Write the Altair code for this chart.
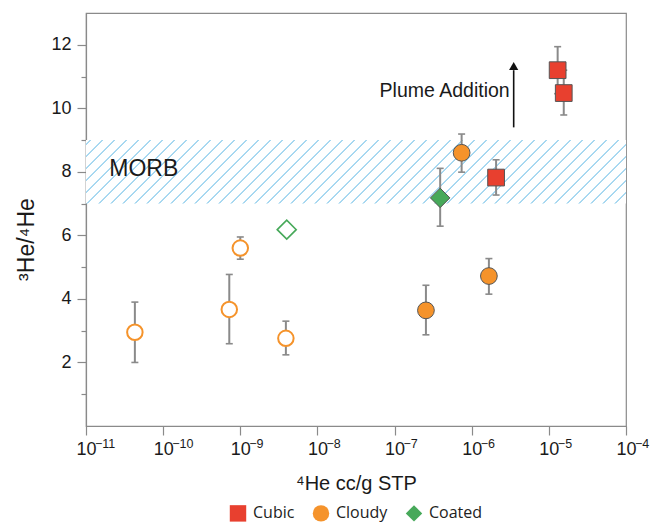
import altair as alt
import pandas as pd

# ---------------- data ----------------
types = ["Cloudy", "Cloudy", "Cloudy", "Cloudy", "Coated", "Cloudy",
         "Coated", "Cloudy", "Cloudy", "Cubic", "Cubic", "Cubic"]
he4 = [4.3e-11, 7.2e-10, 1.0e-9, 3.9e-9, 4.0e-9, 2.55e-7,
       3.9e-7, 7.4e-7, 1.67e-6, 2.07e-6, 1.3e-5, 1.56e-5]
ratio = [2.95, 3.67, 5.60, 2.76, 6.18, 3.64,
         7.18, 8.60, 4.72, 7.82, 11.20, 10.48]
err_lo = [2.00, 2.59, 5.25, 2.24, None, 2.87,
          6.29, 7.99, 4.15, 7.27, 10.46, 9.79]
err_hi = [3.90, 4.77, 5.95, 3.30, None, 4.43,
          8.11, 9.19, 5.27, 8.38, 11.94, 11.20]
filled = [False, False, False, False, False, True,
          True, True, True, True, True, True]

type_order = ["Cubic", "Cloudy", "Coated"]
type_colors = ["#e8402f", "#f5932b", "#47a95a"]
type_shapes = ["square", "circle", "diamond"]

morb_range = [7, 9]
x_domain = [1e-11, 1e-4]
x_ticks = [1e-11, 1e-10, 1e-9, 1e-8, 1e-7, 1e-6, 1e-5, 1e-4]
x_tick_exponents = ["−11", "−10", "−9", "−8", "−7", "−6", "−5", "−4"]
y_domain = [0, 13]
y_ticks = list(range(1, 13))

arrow_x = 3.5e-6
arrow_from, arrow_to, arrow_head = 9.4, 11.2, 11.33
morb_label = {"x": 2.0e-11, "y": 8.09, "text": "MORB"}
plume_label = {"x": 3.5e-6, "y": 10.55, "text": "Plume Addition"}

df = pd.DataFrame({"type": types, "he4": he4, "ratio": ratio,
                   "lo": err_lo, "hi": err_hi, "filled": filled})
err_df = df.dropna(subset=["lo", "hi"])
exp_df = pd.DataFrame({"x": x_ticks, "y": [y_domain[0]] * len(x_ticks),
                       "text": x_tick_exponents})

# ---------------- layout ----------------
W, H = 540, 413
FONT = "Liberation Sans"
AXIS_GRAY = "#8a8a8a"
HATCH = "#9fd4ef"

# diagonal hatch done with a striped linear gradient (style only)
band_h = H * (morb_range[1] - morb_range[0]) / (y_domain[1] - y_domain[0])
S = W + band_h
k = S / (W * W + band_h * band_h)
period, lw, soft = 12.0, 0.9, 0.5
stops = [alt.GradientStop(offset=0, color="#ffffff")]
pos = 4.0
while pos + lw + soft < S:
    stops += [
        alt.GradientStop(offset=(pos - soft) / S, color="#ffffff"),
        alt.GradientStop(offset=pos / S, color=HATCH),
        alt.GradientStop(offset=(pos + lw) / S, color=HATCH),
        alt.GradientStop(offset=(pos + lw + soft) / S, color="#ffffff"),
    ]
    pos += period
stops.append(alt.GradientStop(offset=1, color="#ffffff"))
hatch = alt.LinearGradient(gradient="linear", stops=stops,
                           x1=0, y1=0, x2=W * k, y2=band_h * k)

xscale = alt.Scale(type="log", domain=x_domain, nice=False)
yscale = alt.Scale(domain=y_domain, nice=False, zero=False)

x_axis = alt.Axis(values=x_ticks, labelExpr="'10'", labelAlign="center",
                  labelFontSize=18, tickSize=9, labelPadding=5,
                  title="⁴He cc/g STP", titleFontSize=20, titleFontWeight="normal",
                  titlePadding=15, grid=False)
y_axis = alt.Axis(values=y_ticks,
                  labelExpr="datum.value % 2 == 0 ? datum.label : ''",
                  tickSize={"condition": {"test": "datum.value % 2 == 1", "value": 5}, "value": 9},
                  labelFontSize=18, labelPadding=6,
                  title="³He/⁴He", titleFontSize=23, titleFontWeight="normal",
                  titlePadding=12, titleY=226, grid=False)

X = alt.X("he4:Q", scale=xscale, axis=x_axis)
Y = alt.Y("ratio:Q", scale=yscale, axis=y_axis)

band = alt.Chart(pd.DataFrame({"x0": [x_domain[0]], "x1": [x_domain[1]],
                               "y0": [morb_range[0]], "y1": [morb_range[1]]})).mark_rect(
    fill=hatch).encode(
    x=alt.X("x0:Q", scale=xscale, axis=x_axis), x2="x1:Q",
    y=alt.Y("y0:Q", scale=yscale, axis=y_axis), y2="y1:Q")

err = alt.Chart(err_df).mark_rule(color=AXIS_GRAY, strokeWidth=2).encode(
    x=X, y=alt.Y("lo:Q", scale=yscale, axis=y_axis), y2="hi:Q")
cap_lo = alt.Chart(err_df).mark_tick(orient="horizontal", size=7, thickness=1.6,
                                     color=AXIS_GRAY, opacity=1).encode(
    x=X, y=alt.Y("lo:Q", scale=yscale, axis=y_axis))
cap_hi = alt.Chart(err_df).mark_tick(orient="horizontal", size=7, thickness=1.6,
                                     color=AXIS_GRAY, opacity=1).encode(
    x=X, y=alt.Y("hi:Q", scale=yscale, axis=y_axis))

open_circ = alt.Chart(df).transform_filter(
    "!datum.filled && datum.type == 'Cloudy'").mark_point(
    shape="circle", filled=False, fill="white", fillOpacity=1, size=240,
    stroke=type_colors[1], strokeWidth=2, opacity=1).encode(x=X, y=Y)
open_diam = alt.Chart(df).transform_filter(
    "!datum.filled && datum.type == 'Coated'").mark_point(
    shape="diamond", filled=False, fill="white", fillOpacity=1, size=360,
    stroke=type_colors[2], strokeWidth=1.6, opacity=1).encode(x=X, y=Y)

legend = alt.Legend(title=None, orient="none", legendX=143, legendY=491,
                    direction="horizontal", symbolSize=270,
                    symbolStrokeColor="#555555", symbolStrokeWidth=1,
                    labelFont="Open Sans", labelFontSize=16,
                    labelColor="#222222", columnPadding=15, labelOffset=6)
FILL = alt.Fill("type:N", scale=alt.Scale(domain=type_order, range=type_colors),
                sort=type_order, legend=legend)
SHAPE = alt.Shape("type:N", scale=alt.Scale(domain=type_order, range=type_shapes),
                  sort=type_order, legend=legend)

solid = alt.Chart(df).transform_filter(
    "datum.filled && datum.type != 'Coated'").mark_point(
    filled=True, stroke="#555555", strokeWidth=1, opacity=1, fillOpacity=1, size=280).encode(
    x=X, y=Y, fill=FILL, shape=SHAPE)
solid_diam = alt.Chart(df).transform_filter(
    "datum.filled && datum.type == 'Coated'").mark_point(
    filled=True, stroke="#555555", strokeWidth=1, opacity=1, fillOpacity=1, size=380).encode(
    x=X, y=Y, fill=FILL, shape=SHAPE)

arrow_line = alt.Chart(pd.DataFrame({"x": [arrow_x], "y0": [arrow_from], "y1": [arrow_to]})).mark_rule(
    color="#111111", strokeWidth=1.6).encode(
    x=alt.X("x:Q", scale=xscale, axis=x_axis),
    y=alt.Y("y0:Q", scale=yscale, axis=y_axis), y2="y1:Q")
arrow_tip = alt.Chart(pd.DataFrame({"x": [arrow_x], "y": [arrow_head]})).mark_point(
    shape="triangle-up", filled=True, color="#111111", size=85, opacity=1).encode(
    x=alt.X("x:Q", scale=xscale, axis=x_axis),
    y=alt.Y("y:Q", scale=yscale, axis=y_axis))

morb_text = alt.Chart(pd.DataFrame([morb_label])).mark_text(
    align="left", baseline="middle", fontSize=23, font=FONT, color="#1a1a1a").encode(
    x=alt.X("x:Q", scale=xscale, axis=x_axis),
    y=alt.Y("y:Q", scale=yscale, axis=y_axis), text="text:N")
plume_text = alt.Chart(pd.DataFrame([plume_label])).mark_text(
    align="right", baseline="middle", fontSize=19.5, font=FONT, color="#1a1a1a", dx=-4).encode(
    x=alt.X("x:Q", scale=xscale, axis=x_axis),
    y=alt.Y("y:Q", scale=yscale, axis=y_axis), text="text:N")

# superscript exponents of the x tick labels
exp_text = alt.Chart(exp_df).mark_text(
    align="left", baseline="alphabetic", fontSize=12.5, font=FONT, color="#1a1a1a",
    dx=9, dy=22).encode(
    x=alt.X("x:Q", scale=xscale, axis=x_axis),
    y=alt.Y("y:Q", scale=yscale, axis=y_axis), text="text:N")

chart = alt.layer(
    band, err, cap_lo, cap_hi, open_circ, open_diam, solid, solid_diam,
    arrow_line, arrow_tip, morb_text, plume_text, exp_text
).properties(
    width=W, height=H,
    autosize=alt.AutoSizeParams(type="none"),
    padding={"left": 86, "top": 13, "right": 24, "bottom": 96},
    background="white",
).configure_view(
    stroke=AXIS_GRAY, strokeWidth=1.2
).configure_axis(
    domainColor=AXIS_GRAY, tickColor=AXIS_GRAY, domainWidth=1.2, tickWidth=1.2,
    labelColor="#1a1a1a", titleColor="#1a1a1a", labelFont=FONT, titleFont=FONT
)

chart.save("out.html", embed_options={"renderer": "svg", "actions": False})
